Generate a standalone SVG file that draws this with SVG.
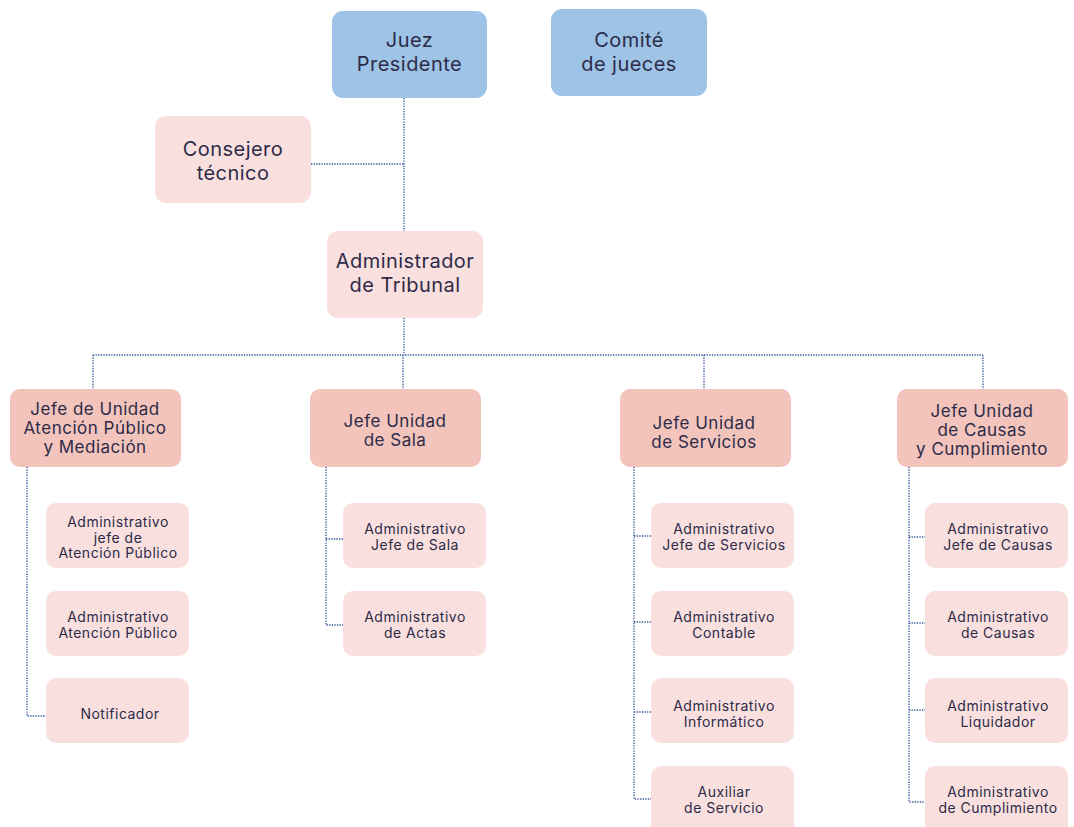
<svg xmlns="http://www.w3.org/2000/svg" width="1074" height="827" viewBox="0 0 1074 827">
<style>
.blue{fill:#9dc3e6}
.pk{fill:#f9e0df}
.pd{fill:#f2c4bc}
text{font-family:Inter,"Noto Sans",sans-serif;fill:#2d2b48;text-anchor:middle}
.t1{font-size:20px;letter-spacing:0.45px}
.t2{font-size:17px;letter-spacing:0.5px}
.t3{font-size:14px;letter-spacing:0.5px}
.con{fill:none;stroke:#2e5597;stroke-width:1.3;stroke-dasharray:1.3 1.3}
</style>
<rect width="1074" height="827" fill="#fff"/>
<g id="connectors">
<path class="con" d="M404 98V231M311 164H404M404 318V355M93 355H983M93 355V389M403 355V389M704 355V389M983 355V389"/>
<path class="con" d="M27 467V716H46"/>
<path class="con" d="M326 467V625H343M326 539H343"/>
<path class="con" d="M634 467V799H651M634 536H651M634 622H651M634 712H651"/>
<path class="con" d="M909 467V802H925M909 537H925M909 623H925M909 710H925"/>
</g>
<g id="juez"><rect class="blue" x="332" y="11" width="155" height="87" rx="11"/><text class="t1" x="409.5" y="47">Juez</text><text class="t1" x="409.5" y="71">Presidente</text></g>
<g id="comite"><rect class="blue" x="551" y="9" width="156" height="87" rx="11"/><text class="t1" x="629" y="47">Comité</text><text class="t1" x="629" y="71">de jueces</text></g>
<g id="consejero"><rect class="pk" x="155" y="116" width="156" height="87" rx="11"/><text class="t1" x="233" y="156">Consejero</text><text class="t1" x="233" y="180">técnico</text></g>
<g id="administrador"><rect class="pk" x="327" y="231" width="156" height="87" rx="11"/><text class="t1" x="405" y="268">Administrador</text><text class="t1" x="405" y="292">de Tribunal</text></g>
<g id="jefe-atencion"><rect class="pd" x="10" y="389" width="171" height="78" rx="10"/><text class="t2" x="95" y="415">Jefe de Unidad</text><text class="t2" x="95" y="434">Atención Público</text><text class="t2" x="95" y="453">y Mediación</text></g>
<g id="jefe-sala"><rect class="pd" x="310" y="389" width="171" height="78" rx="10"/><text class="t2" x="395" y="427">Jefe Unidad</text><text class="t2" x="395" y="446">de Sala</text></g>
<g id="jefe-servicios"><rect class="pd" x="620" y="389" width="171" height="78" rx="10"/><text class="t2" x="704" y="429">Jefe Unidad</text><text class="t2" x="704" y="448">de Servicios</text></g>
<g id="jefe-causas"><rect class="pd" x="897" y="389" width="171" height="78" rx="10"/><text class="t2" x="982" y="417">Jefe Unidad</text><text class="t2" x="982" y="436">de Causas</text><text class="t2" x="982" y="455">y Cumplimiento</text></g>
<g id="adm-jefe-atencion"><rect class="pk" x="46" y="503" width="143" height="65" rx="10"/><text class="t3" x="118" y="527">Administrativo</text><text class="t3" x="118" y="543">jefe de</text><text class="t3" x="118" y="558">Atención Público</text></g>
<g id="adm-atencion"><rect class="pk" x="46" y="591" width="143" height="65" rx="10"/><text class="t3" x="118" y="622">Administrativo</text><text class="t3" x="118" y="638">Atención Público</text></g>
<g id="notificador"><rect class="pk" x="46" y="678" width="143" height="65" rx="10"/><text class="t3" x="120" y="719">Notificador</text></g>
<g id="adm-jefe-sala"><rect class="pk" x="343" y="503" width="143" height="65" rx="10"/><text class="t3" x="415" y="534">Administrativo</text><text class="t3" x="415" y="550">Jefe de Sala</text></g>
<g id="adm-actas"><rect class="pk" x="343" y="591" width="143" height="65" rx="10"/><text class="t3" x="415" y="622">Administrativo</text><text class="t3" x="415" y="638">de Actas</text></g>
<g id="adm-jefe-servicios"><rect class="pk" x="651" y="503" width="143" height="65" rx="10"/><text class="t3" x="724" y="534">Administrativo</text><text class="t3" x="724" y="550">Jefe de Servicios</text></g>
<g id="adm-contable"><rect class="pk" x="651" y="591" width="143" height="65" rx="10"/><text class="t3" x="724" y="622">Administrativo</text><text class="t3" x="724" y="638">Contable</text></g>
<g id="adm-informatico"><rect class="pk" x="651" y="678" width="143" height="65" rx="10"/><text class="t3" x="724" y="711">Administrativo</text><text class="t3" x="724" y="727">Informático</text></g>
<g id="auxiliar"><rect class="pk" x="651" y="766" width="143" height="70" rx="10"/><text class="t3" x="724" y="797">Auxiliar</text><text class="t3" x="724" y="813">de Servicio</text></g>
<g id="adm-jefe-causas"><rect class="pk" x="925" y="503" width="143" height="65" rx="10"/><text class="t3" x="998" y="534">Administrativo</text><text class="t3" x="998" y="550">Jefe de Causas</text></g>
<g id="adm-causas"><rect class="pk" x="925" y="591" width="143" height="65" rx="10"/><text class="t3" x="998" y="622">Administrativo</text><text class="t3" x="998" y="638">de Causas</text></g>
<g id="adm-liquidador"><rect class="pk" x="925" y="678" width="143" height="65" rx="10"/><text class="t3" x="998" y="711">Administrativo</text><text class="t3" x="998" y="727">Liquidador</text></g>
<g id="adm-cumplimiento"><rect class="pk" x="925" y="766" width="143" height="70" rx="10"/><text class="t3" x="998" y="797">Administrativo</text><text class="t3" x="998" y="813">de Cumplimiento</text></g>
</svg>
